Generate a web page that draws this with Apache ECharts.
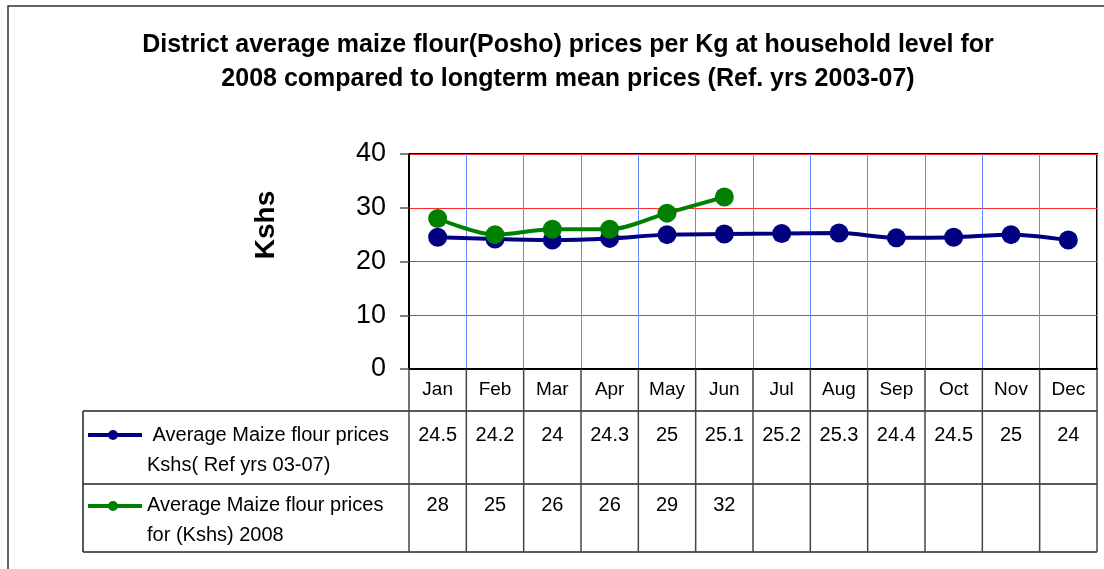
<!DOCTYPE html>
<html>
<head>
<meta charset="utf-8">
<script src="https://cdn.jsdelivr.net/npm/echarts@6/dist/echarts.min.js"></script>
<style>
  html, body { margin: 0; padding: 0; background: #fff; }
  #chart { width: 1104px; height: 569px; }
</style>
</head>
<body>
<div id="chart"></div>
<script>
var months = ['Jan', 'Feb', 'Mar', 'Apr', 'May', 'Jun', 'Jul', 'Aug', 'Sep', 'Oct', 'Nov', 'Dec'];
var refPrices = [24.5, 24.2, 24, 24.3, 25, 25.1, 25.2, 25.3, 24.4, 24.5, 25, 24];
var prices2008 = [28, 25, 26, 26, 29, 32];
var refName = ' Average Maize flour prices\nKshs( Ref yrs 03-07)';
var name2008 = 'Average Maize flour prices\nfor (Kshs) 2008';
var blue = '#000080';
var green = '#008000';
var font = '"Liberation Sans", Arial, sans-serif';

var chart = echarts.init(document.getElementById('chart'), null, { renderer: 'canvas' });

var option = {
  backgroundColor: '#ffffff',
  animation: false,
  title: {
    text: 'District average maize flour(Posho) prices per Kg at household level for\n2008 compared to longterm mean prices (Ref. yrs 2003-07)',
    left: 563,
    top: 23,
    textAlign: 'center',
    textStyle: { fontFamily: font, fontWeight: 'bold', fontSize: 25, lineHeight: 34, color: '#000' }
  },
  grid: {
    left: 409, right: 7, top: 154, bottom: 200,
    show: true, borderColor: '#000', borderWidth: 2
  },
  xAxis: {
    type: 'category',
    data: months,
    boundaryGap: true,
    axisLine: { lineStyle: { color: '#000', width: 2 } },
    axisTick: { show: false },
    axisLabel: { fontFamily: font, fontSize: 19, color: '#000', margin: 11 },
    splitLine: { show: true, lineStyle: { color: '#6688ff', width: 1 } }
  },
  yAxis: {
    type: 'value',
    min: 0, max: 40, interval: 10,
    axisLine: { show: true, lineStyle: { color: '#000', width: 2 } },
    axisTick: { show: true, length: 9, lineStyle: { color: '#555', width: 1.5 } },
    axisLabel: { fontFamily: font, fontSize: 27, color: '#000', margin: 23 },
    splitLine: { show: true, lineStyle: { color: '#ff2a2a', width: 1 } }
  },
  series: [{
    name: refName,
    type: 'line',
    data: refPrices,
    smooth: 0.3,
    symbol: 'circle',
    symbolSize: 19,
    itemStyle: { color: blue },
    lineStyle: { color: blue, width: 4 },
    z: 3
  }, {
    name: name2008,
    type: 'line',
    data: prices2008,
    smooth: 0.3,
    symbol: 'circle',
    symbolSize: 19,
    itemStyle: { color: green },
    lineStyle: { color: green, width: 4 },
    z: 4
  }]
};

chart.setOption(option);

// data table under the plot, placed from the category axis
var plotLeft = 409, plotRight = 1097, axisY = 369;
var rowTop = 411, rowMid = 484, rowBottom = 552, tableLeft = 83;
var band = (plotRight - plotLeft) / months.length;
var g = [];

// outer frame
g.push({ type: 'rect', shape: { x: 8, y: 6, width: 1200, height: 700 },
  style: { fill: null, stroke: '#333', lineWidth: 1.5 }, silent: true, z: 0 });

// horizontal table rules
[rowTop, rowMid, rowBottom].forEach(function (y) {
  g.push({ type: 'line', shape: { x1: tableLeft, y1: y, x2: plotRight, y2: y },
    style: { stroke: '#222', lineWidth: 1.5 }, z: 10 });
});
g.push({ type: 'line', shape: { x1: tableLeft, y1: rowTop, x2: tableLeft, y2: rowBottom },
  style: { stroke: '#222', lineWidth: 1.5 }, z: 10 });

// column rules and values
months.forEach(function (m, i) {
  var cx = chart.convertToPixel({ xAxisIndex: 0 }, m);
  var x0 = cx - band / 2;
  g.push({ type: 'line', shape: { x1: x0, y1: axisY, x2: x0, y2: rowBottom },
    style: { stroke: '#444', lineWidth: 1.5 }, z: 10 });
  if (i === months.length - 1) {
    g.push({ type: 'line', shape: { x1: x0 + band, y1: axisY, x2: x0 + band, y2: rowBottom },
      style: { stroke: '#444', lineWidth: 1.5 }, z: 10 });
  }
  g.push({ type: 'text', x: cx, y: 435, style: { text: String(refPrices[i]), font: '20px ' + font,
    fill: '#000', textAlign: 'center', textVerticalAlign: 'middle' }, z: 10 });
  if (prices2008[i] != null) {
    g.push({ type: 'text', x: cx, y: 505, style: { text: String(prices2008[i]), font: '20px ' + font,
      fill: '#000', textAlign: 'center', textVerticalAlign: 'middle' }, z: 10 });
  }
});

// legend keys in the table
[[refName, blue, 435, 420], [name2008, green, 506, 490]].forEach(function (r) {
  g.push({ type: 'line', shape: { x1: 88, y1: r[2], x2: 142, y2: r[2] },
    style: { stroke: r[1], lineWidth: 4 }, z: 10 });
  g.push({ type: 'circle', shape: { cx: 113, cy: r[2], r: 5 }, style: { fill: r[1] }, z: 11 });
  g.push({ type: 'text', x: 147, y: r[3], style: { text: r[0], font: '20px ' + font,
    fill: '#000', lineHeight: 30, textVerticalAlign: 'top' }, z: 10 });
});

// y axis title
g.push({ type: 'text', x: 266, y: 225, rotation: Math.PI / 2,
  style: { text: 'Kshs', font: 'bold 28px ' + font, fill: '#000',
    textAlign: 'center', textVerticalAlign: 'middle' }, z: 10 });

chart.setOption({ graphic: g });
</script>
</body>
</html>
